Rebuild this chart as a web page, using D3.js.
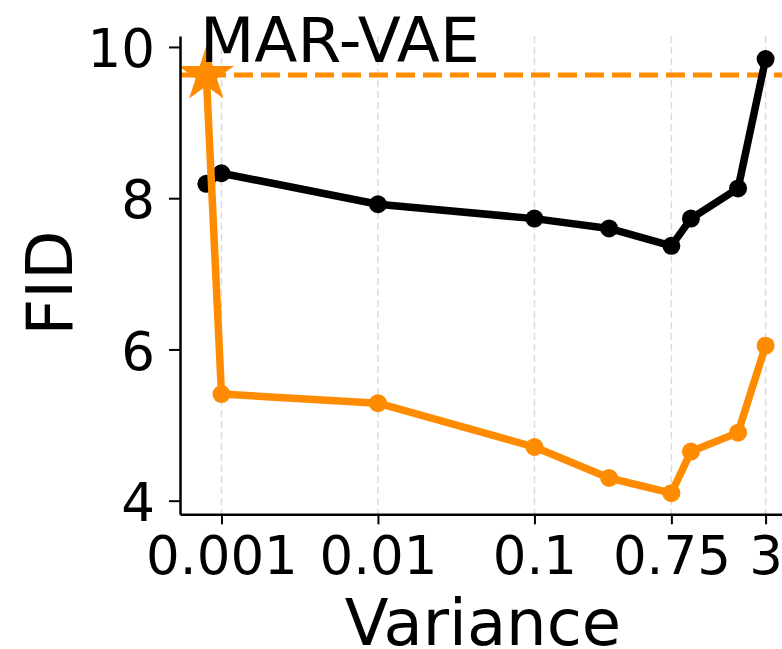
<!DOCTYPE html>
<html>
<head>
<meta charset="utf-8">
<script src="https://cdn.jsdelivr.net/npm/d3@7"></script>
<style>
  html, body { margin: 0; padding: 0; background: #fff; }
  svg { display: block; }
  svg text { font-family: "DejaVu Sans", sans-serif; }
</style>
</head>
<body>
<div id="chart"></div>
<script>
// Datos
const variances = [0.0008, 0.001, 0.01, 0.1, 0.3, 0.75, 1, 2, 3];
const fidBlack = [8.19, 8.33, 7.92, 7.73, 7.60, 7.37, 7.73, 8.13, 9.84];
const fidOrange = [9.63, 5.41, 5.29, 4.71, 4.30, 4.10, 4.65, 4.90, 6.05];
const marVaeFid = 9.63;
const xTicks = [0.001, 0.01, 0.1, 0.75, 3];
const xTickLabels = ["0.001", "0.01", "0.1", "0.75", "3"];
const yTicks = [4, 6, 8, 10];

const W = 782, H = 649;
const margin = { top: 36, left: 180 },
      width = 615,
      height = 478.3;
const orange = "#ff8c00";

const svg = d3.select("#chart").append("svg")
  .attr("width", W)
  .attr("height", H);

const g = svg.append("g")
  .attr("transform", `translate(${margin.left},${margin.top})`);

const x = d3.scaleLog()
  .domain([Math.pow(10, -3.265), Math.pow(10, 0.665)])
  .range([0, width]);

const y = d3.scaleLinear()
  .domain([3.82, 10.145])
  .range([height, 0]);

// Rejilla vertical
g.selectAll(".grid")
  .data(xTicks)
  .join("line")
  .attr("x1", d => x(d)).attr("x2", d => x(d))
  .attr("y1", 0).attr("y2", height)
  .attr("stroke", "#dcdcdc")
  .attr("stroke-width", 1.5)
  .attr("stroke-dasharray", "7,4");

// Línea de referencia MAR-VAE
g.append("line")
  .attr("x1", 0).attr("x2", width)
  .attr("y1", y(marVaeFid)).attr("y2", y(marVaeFid))
  .attr("stroke", orange)
  .attr("stroke-width", 5)
  .attr("stroke-dasharray", "19,8");

const line = d3.line()
  .x(d => x(d[0]))
  .y(d => y(d[1]));

const blackPts = variances.map((v, i) => [v, fidBlack[i]]);
const orangePts = variances.map((v, i) => [v, fidOrange[i]]);

// Serie negra
g.append("path")
  .datum(blackPts)
  .attr("d", line)
  .attr("fill", "none")
  .attr("stroke", "#000")
  .attr("stroke-width", 7.5)
  .attr("stroke-linejoin", "round");

g.selectAll(".dot-black")
  .data(blackPts)
  .join("circle")
  .attr("cx", d => x(d[0]))
  .attr("cy", d => y(d[1]))
  .attr("r", 9)
  .attr("fill", "#000");

// Serie naranja
g.append("path")
  .datum(orangePts)
  .attr("d", line)
  .attr("fill", "none")
  .attr("stroke", orange)
  .attr("stroke-width", 7.5)
  .attr("stroke-linejoin", "round");

g.selectAll(".dot-orange")
  .data(orangePts.slice(1))
  .join("circle")
  .attr("cx", d => x(d[0]))
  .attr("cy", d => y(d[1]))
  .attr("r", 9)
  .attr("fill", orange);

// Estrella MAR-VAE
g.append("path")
  .attr("d", d3.symbol().type(d3.symbolStar).size(960)())
  .attr("transform", `translate(${x(orangePts[0][0])},${y(orangePts[0][1])})`)
  .attr("fill", orange);

// Ejes
const xAxis = g.append("g")
  .attr("font-family", null)
  .call(d3.axisBottom(x)
    .tickValues(xTicks)
    .tickFormat((d, i) => xTickLabels[i])
    .tickSize(10)
    .tickSizeOuter(0))
  .attr("transform", `translate(0,${height})`)
  .attr("font-family", null);

xAxis.select(".domain").attr("stroke-width", 2.5);
xAxis.selectAll(".tick line").attr("stroke-width", 2);
xAxis.selectAll(".tick text")
  .attr("y", 60).attr("dy", 0)
  .attr("fill", "#000")
  .style("font-size", "53px");

const yAxis = g.append("g")
  .call(d3.axisLeft(y)
    .tickValues(yTicks)
    .tickFormat(d3.format("d"))
    .tickSize(11)
    .tickPadding(14)
    .tickSizeOuter(0))
  .attr("font-family", null);

yAxis.select(".domain").attr("stroke-width", 2.5);
yAxis.selectAll(".tick line").attr("stroke-width", 2);
yAxis.selectAll(".tick text")
  .attr("dy", "0.37em")
  .attr("fill", "#000")
  .style("font-size", "53px");

// Etiquetas
svg.append("text")
  .attr("x", 483)
  .attr("y", 645)
  .attr("text-anchor", "middle")
  .style("font-size", "64px")
  .text("Variance");

svg.append("text")
  .attr("transform", "rotate(-90)")
  .attr("x", -283)
  .attr("y", 71.7)
  .attr("text-anchor", "middle")
  .style("font-size", "64px")
  .text("FID");

svg.append("text")
  .attr("x", 200)
  .attr("y", 62.3)
  .style("font-size", "63px")
  .text("MAR-VAE");
</script>
</body>
</html>
